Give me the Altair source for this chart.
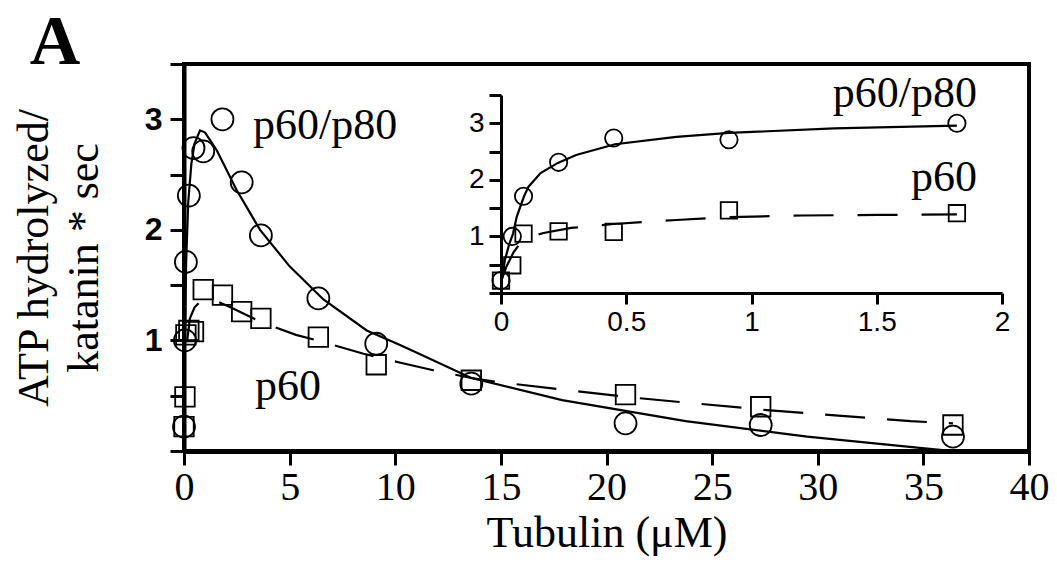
import altair as alt
import pandas as pd

# ---- data ----
tubulin = [0, 0.045, 0.09, 0.23, 0.45, 0.91, 1.82, 2.73, 3.64, 6.36, 9.1, 13.6, 20.9, 27.3, 36.4]
p60_p80 = [0.22, 1.0, 1.71, 2.31, 2.74, 2.71, 3.0, 2.43, 1.95, 1.38, 0.97, 0.61, 0.25, 0.235, 0.13]
p60 = [0.22, 0.49, 1.05, 1.09, 1.08, 1.46, 1.41, 1.26, 1.2, 1.03, 0.78, 0.64, 0.51, 0.40, 0.235]

# fitted curves
fit_main_solid_x = [0, 0.05, 0.1, 0.2, 0.35, 0.5, 0.76, 1.0, 1.55, 2.49, 3.6, 5.0, 6.6, 8.65, 10.2, 11.0, 13.6, 17.9, 23.75, 29.5, 35.3, 36.4]
fit_main_solid_y = [0.15, 1.05, 1.7, 2.25, 2.6, 2.78, 2.9, 2.88, 2.72, 2.36, 2.0, 1.67, 1.37, 1.09, 0.96, 0.89, 0.66, 0.46, 0.27, 0.13, 0.02, 0.0]
fit_main_dash_x = [0.15, 0.28, 0.5, 0.76, 1.0, 1.5, 2.2, 3.6, 5.3, 6.5, 8.5, 10.2, 11.8, 13.6, 15.0, 21.4, 27.6, 34.4, 36.4]
fit_main_dash_y = [1.0, 1.2, 1.3, 1.35, 1.37, 1.36, 1.3, 1.17, 1.05, 0.99, 0.88, 0.8, 0.73, 0.66, 0.62, 0.48, 0.37, 0.27, 0.25]
fit_inset_solid_x = [0, 0.016, 0.032, 0.048, 0.063, 0.092, 0.11, 0.158, 0.227, 0.3, 0.455, 0.7, 0.91, 1.33, 1.82]
fit_inset_solid_y = [0.15, 0.59, 0.85, 1.05, 1.35, 1.71, 1.88, 2.12, 2.3, 2.44, 2.63, 2.76, 2.83, 2.91, 2.96]
fit_inset_dash_x = [0, 0.02, 0.05, 0.08, 0.12, 0.17, 0.28, 0.45, 0.7, 0.9, 1.2, 1.5, 1.82]
fit_inset_dash_y = [0.2, 0.45, 0.72, 0.9, 1.0, 1.06, 1.15, 1.22, 1.29, 1.34, 1.37, 1.38, 1.39]

main_labels = ["p60/p80", "p60"]
main_label_x = [3.27, 3.36]
main_label_y = [2.82, 0.46]
inset_labels = ["p60/p80", "p60"]
inset_label_x = [1.9, 1.9]
inset_label_y = [3.29, 1.8]

SERIF = "Liberation Serif"
SANS = "Liberation Sans"

W, H = 845, 387

pts = pd.DataFrame({"x": tubulin, "a": p60_p80, "b": p60})
ins_pts = pts[pts["x"] <= 2]
ms = pd.DataFrame({"x": fit_main_solid_x, "y": fit_main_solid_y})
md = pd.DataFrame({"x": fit_main_dash_x, "y": fit_main_dash_y})
is_ = pd.DataFrame({"x": fit_inset_solid_x, "y": fit_inset_solid_y})
id_ = pd.DataFrame({"x": fit_inset_dash_x, "y": fit_inset_dash_y})
ml = pd.DataFrame({"x": main_label_x, "y": main_label_y, "t": main_labels})
il = pd.DataFrame({"x": inset_label_x, "y": inset_label_y, "t": inset_labels})

xs = alt.Scale(domain=[0, 40], nice=False, zero=False)
ys = alt.Scale(domain=[0, 3.5], nice=False, zero=False)

LBL = "(datum.value==1||datum.value==2||datum.value==3) ? datum.label : ''"

x_axis = alt.Axis(values=list(range(0, 41, 5)), grid=False, tickSize=14, tickWidth=3,
                  tickColor="black", domainColor="black", domainWidth=5,
                  labelFont=SERIF, labelFontSize=40, labelColor="black", labelPadding=2,
                  labelFlush=False, labelOverlap=False, labelBound=False,
                  title="Tubulin (μM)", titleFont=SERIF, titleFontSize=44,
                  titleFontWeight="normal", titleColor="black", titlePadding=4)
y_axis = alt.Axis(values=[0, 0.5, 1, 1.5, 2, 2.5, 3, 3.5], format="~g", grid=False,
                  tickSize=14, tickWidth=3, tickColor="black", domainColor="black", domainWidth=4,
                  labelExpr=LBL,
                  labelFont=SANS, labelFontSize=32, labelFontWeight="bold", labelColor="black",
                  labelPadding=8, labelFlush=False, labelOverlap=False,
                  title=["ATP hydrolyzed/", "katanin * sec"], titleFont=SERIF, titleFontSize=44,
                  titleFontWeight="normal", titleColor="black", titleLineHeight=50,
                  titlePadding=38)

X = alt.X("x:Q", scale=xs, axis=x_axis)
Y = alt.Y("y:Q", scale=ys, axis=y_axis)

main_solid = alt.Chart(ms).mark_line(color="black", strokeWidth=2.2).encode(x=X, y=Y)
main_dash = alt.Chart(md).mark_line(color="black", strokeWidth=2.2, strokeDash=[40, 22]).encode(x=X, y=Y)
main_circ = alt.Chart(pts).mark_point(shape="circle", filled=False, color="black", size=484,
                                      strokeWidth=1.8, opacity=1).encode(x=X, y=alt.Y("a:Q", scale=ys, axis=y_axis))
main_sq = alt.Chart(pts).mark_point(shape="square", filled=False, color="black", size=380,
                                    strokeWidth=1.8, opacity=1).encode(x=X, y=alt.Y("b:Q", scale=ys, axis=y_axis))
main_txt = alt.Chart(ml).mark_text(font=SERIF, fontSize=44, align="left", baseline="alphabetic",
                                   color="black").encode(x=X, y=Y, text="t:N")
letter = alt.Chart(pd.DataFrame({"t": ["A"]})).mark_text(font=SERIF, fontSize=70, fontWeight="bold",
                                                        align="center", baseline="alphabetic",
                                                        color="black").encode(
    x=alt.value(-129), y=alt.value(0), text="t:N")

main = alt.layer(main_solid, main_dash, main_circ, main_sq, main_txt, letter)

# ---- inset ----
ix0, ix1 = 317, 818
iy0, iy1 = 229, 31
ixs = alt.Scale(domain=[0, 2], range=[ix0, ix1], nice=False, zero=False)
iys = alt.Scale(domain=[0, 3.5], range=[iy0, iy1], nice=False, zero=False)
ix_axis = alt.Axis(orient="bottom", offset=-(H - iy0), values=[0, 0.5, 1, 1.5, 2], format="~g",
                   grid=False, tickSize=11, tickWidth=3, tickColor="black", domainColor="black",
                   domainWidth=3, labelFont=SANS, labelFontSize=28, labelColor="black",
                   labelPadding=4, labelFlush=False, labelOverlap=False, labelBound=False, title=None)
iy_axis = alt.Axis(orient="left", offset=-ix0, values=[0, 0.5, 1, 1.5, 2, 2.5, 3, 3.5], format="~g",
                   labelExpr=LBL,
                   grid=False, tickSize=12, tickWidth=3, tickColor="black", domainColor="black",
                   domainWidth=3, labelFont=SANS, labelFontSize=28, labelColor="black",
                   labelPadding=5, labelFlush=False, labelOverlap=False, title=None)
IX = alt.X("x:Q", scale=ixs, axis=ix_axis)
IY = alt.Y("y:Q", scale=iys, axis=iy_axis)

in_solid = alt.Chart(is_).mark_line(color="black", strokeWidth=2.2).encode(x=IX, y=IY)
in_dash = alt.Chart(id_).mark_line(color="black", strokeWidth=2.2, strokeDash=[40, 24]).encode(x=IX, y=IY)
in_circ = alt.Chart(ins_pts).mark_point(shape="circle", filled=False, color="black", size=300,
                                        strokeWidth=1.8, opacity=1).encode(x=IX, y=alt.Y("a:Q", scale=iys, axis=iy_axis))
in_sq = alt.Chart(ins_pts).mark_point(shape="square", filled=False, color="black", size=270,
                                      strokeWidth=1.8, opacity=1).encode(x=IX, y=alt.Y("b:Q", scale=iys, axis=iy_axis))
in_txt = alt.Chart(il).mark_text(font=SERIF, fontSize=44, align="right", baseline="alphabetic",
                                 color="black").encode(x=IX, y=IY, text="t:N")

inset = alt.layer(in_solid, in_dash, in_circ, in_sq, in_txt)

chart = alt.layer(main, inset).resolve_scale(x="independent", y="independent").properties(
    width=W, height=H,
    autosize=alt.AutoSizeParams(type="none"),
    padding={"left": 184, "top": 64, "right": 1057 - 184 - W, "bottom": 563 - 64 - H},
    background="white",
).configure_view(stroke="black", strokeWidth=4)

chart.save("out.html", embed_options={"renderer": "svg", "actions": False})
